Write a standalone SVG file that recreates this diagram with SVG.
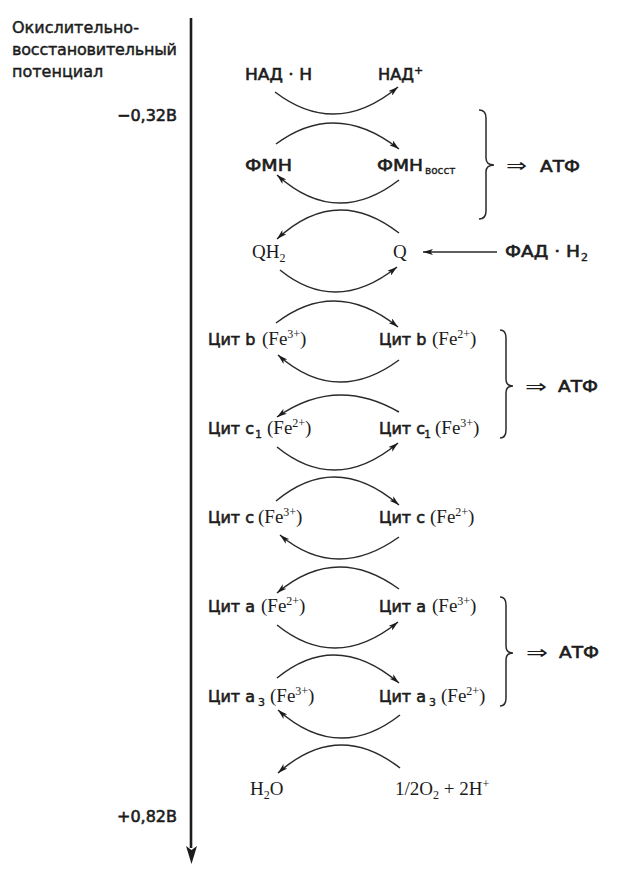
<svg xmlns="http://www.w3.org/2000/svg" width="619" height="874" viewBox="0 0 619 874">
<style>
text{fill:#1c1c1c}
.s{font-family:"DejaVu Sans","Liberation Sans",sans-serif;font-size:16px;stroke:#1c1c1c;stroke-width:0.6}
.t{font-family:"DejaVu Sans","Liberation Sans",sans-serif;font-size:16px;stroke:#1c1c1c;stroke-width:0.45}
.r{font-family:"Liberation Serif","Times New Roman",serif;font-size:19px;stroke:none}
.sub{font-size:12px}
.sup{font-size:12px}
.ssub{font-size:11px;stroke-width:0.4}
.vs{font-size:10.5px;stroke-width:0.35}
.arr{font-family:"DejaVu Sans",sans-serif;font-size:19px;stroke:none}
.arc{fill:none;stroke:#2a2a2a;stroke-width:1.5;marker-end:url(#ah)}
.br{fill:none;stroke:#2a2a2a;stroke-width:1.5}
</style>
<defs>
<marker id="ah" viewBox="0 0 10 6" refX="10" refY="3" markerWidth="10" markerHeight="6" orient="auto" markerUnits="userSpaceOnUse">
<path d="M0,0 L10,3 L0,6 L2.5,3z" fill="#1c1c1c"/>
</marker>
</defs>

<g id="axis">
<line x1="191" y1="18" x2="191" y2="848" stroke="#1c1c1c" stroke-width="2.6"/>
<path d="M186,846 L191.5,864 L197,846 L191.5,850z" fill="#1c1c1c"/>
<text class="t" x="12" y="33">Окислительно-</text>
<text class="t" x="12" y="55" textLength="165">восстановительный</text>
<text class="t" x="12" y="77">потенциал</text>
<text class="s" x="177" y="121" text-anchor="end">−0,32В</text>
<text class="s" x="177" y="822" text-anchor="end">+0,82В</text>
</g>

<g id="connectors">
<path class="arc" d="M275,92 Q336,138.5 398,87"/>
<path class="arc" d="M276,144 Q336,99.5 399,149"/>
<path class="arc" d="M399,180 Q336,228.5 277,175"/>
<path class="arc" d="M399,233 Q336,184 277,239"/>
<path class="arc" d="M280,270 Q336,315.5 397,267"/>
<path class="arc" d="M276,323 Q336,277 398,327"/>
<path class="arc" d="M399,360 Q336,406.5 278,355"/>
<path class="arc" d="M399,412 Q336,375.5 277,417"/>
<path class="arc" d="M277,447 Q336,495 398,443"/>
<path class="arc" d="M276,501 Q336,451 399,505"/>
<path class="arc" d="M399,537 Q336,582 280,535"/>
<path class="arc" d="M399,589 Q336,543 277,593"/>
<path class="arc" d="M277,625 Q336,672.5 398,622"/>
<path class="arc" d="M277,678 Q336,629.5 399,683"/>
<path class="arc" d="M400,715 Q338,763.5 278,710"/>
<path class="arc" d="M400,768 Q338,719.5 278,773"/>
<line x1="497" y1="252" x2="423" y2="252" stroke="#2a2a2a" stroke-width="1.5" marker-end="url(#ah)"/>
</g>

<g id="nadh"><text class="s" x="245" y="80" textLength="67" lengthAdjust="spacingAndGlyphs">НАД · Н</text></g>
<g id="nad"><text class="s" x="378" y="80"><tspan textLength="36" lengthAdjust="spacingAndGlyphs">НАД</tspan><tspan class="ssub" dy="-6">+</tspan></text></g>
<g id="fmn"><text class="s" x="245" y="171" textLength="47" lengthAdjust="spacingAndGlyphs">ФМН</text></g>
<g id="fmnh"><text class="s" x="377" y="171"><tspan textLength="46" lengthAdjust="spacingAndGlyphs">ФМН</tspan><tspan class="vs" x="425" dy="3">восст</tspan></text></g>
<g id="qh2"><text class="r" x="252" y="258">QH<tspan class="sub" dy="4">2</tspan></text></g>
<g id="q"><text class="r" x="393" y="258">Q</text></g>
<g id="fadh2"><text class="s" x="505" y="257"><tspan textLength="75" lengthAdjust="spacingAndGlyphs">ФАД · Н</tspan><tspan class="ssub" x="581" dy="4">2</tspan></text></g>

<g id="cytb-ox"><text y="345"><tspan class="s" x="208">Цит b</tspan><tspan class="r" x="262">(Fe</tspan><tspan class="r sup" dy="-7">3+</tspan><tspan class="r" dy="7">)</tspan></text></g>
<g id="cytb-red"><text y="345"><tspan class="s" x="379">Цит b</tspan><tspan class="r" x="432">(Fe</tspan><tspan class="r sup" dy="-7">2+</tspan><tspan class="r" dy="7">)</tspan></text></g>
<g id="cytc1-red"><text y="434"><tspan class="s" x="208">Цит c</tspan><tspan class="s ssub" x="255" dy="4">1</tspan><tspan class="r" x="267" dy="-4">(Fe</tspan><tspan class="r sup" dy="-7">2+</tspan><tspan class="r" dy="7">)</tspan></text></g>
<g id="cytc1-ox"><text y="434"><tspan class="s" x="379">Цит c</tspan><tspan class="s ssub" x="424" dy="4">1</tspan><tspan class="r" x="435" dy="-4">(Fe</tspan><tspan class="r sup" dy="-7">3+</tspan><tspan class="r" dy="7">)</tspan></text></g>
<g id="cytc-ox"><text y="523"><tspan class="s" x="208">Цит c</tspan><tspan class="r" x="258">(Fe</tspan><tspan class="r sup" dy="-7">3+</tspan><tspan class="r" dy="7">)</tspan></text></g>
<g id="cytc-red"><text y="523"><tspan class="s" x="379">Цит c</tspan><tspan class="r" x="430">(Fe</tspan><tspan class="r sup" dy="-7">2+</tspan><tspan class="r" dy="7">)</tspan></text></g>
<g id="cyta-red"><text y="612"><tspan class="s" x="208">Цит a</tspan><tspan class="r" x="261">(Fe</tspan><tspan class="r sup" dy="-7">2+</tspan><tspan class="r" dy="7">)</tspan></text></g>
<g id="cyta-ox"><text y="612"><tspan class="s" x="379">Цит a</tspan><tspan class="r" x="432">(Fe</tspan><tspan class="r sup" dy="-7">3+</tspan><tspan class="r" dy="7">)</tspan></text></g>
<g id="cyta3-ox"><text y="702"><tspan class="s" x="208">Цит a</tspan><tspan class="s ssub" x="258" dy="4">3</tspan><tspan class="r" x="270" dy="-4">(Fe</tspan><tspan class="r sup" dy="-7">3+</tspan><tspan class="r" dy="7">)</tspan></text></g>
<g id="cyta3-red"><text y="702"><tspan class="s" x="379">Цит a</tspan><tspan class="s ssub" x="429" dy="4">3</tspan><tspan class="r" x="441" dy="-4">(Fe</tspan><tspan class="r sup" dy="-7">2+</tspan><tspan class="r" dy="7">)</tspan></text></g>
<g id="h2o"><text class="r" x="250" y="795">H<tspan class="sub" dy="4">2</tspan><tspan dy="-4">O</tspan></text></g>
<g id="o2"><text class="r" x="395" y="795">1/2O<tspan class="sub" dy="4">2</tspan><tspan dy="-4"> + 2H</tspan><tspan class="sup" dy="-7">+</tspan></text></g>

<g id="atp1">
<path class="br" d="M479,110 Q486,110 486,118 L486,158 Q486,165 494,165 Q486,165 486,172 L486,211 Q486,219 479,219"/>
<text class="arr" x="506" y="172" textLength="21" lengthAdjust="spacingAndGlyphs">⇒</text>
<text class="s" x="540" y="172" textLength="40" lengthAdjust="spacingAndGlyphs">АТФ</text>
</g>
<g id="atp2">
<path class="br" d="M500,330 Q506,330 506,338 L506,379 Q506,386 513,386 Q506,386 506,393 L506,430 Q506,438 500,438"/>
<text class="arr" x="525" y="393" textLength="22" lengthAdjust="spacingAndGlyphs">⇒</text>
<text class="s" x="558" y="392" textLength="40" lengthAdjust="spacingAndGlyphs">АТФ</text>
</g>
<g id="atp3">
<path class="br" d="M500,597 Q506,597 506,605 L506,646 Q506,653 513,653 Q506,653 506,660 L506,698 Q506,706 500,706"/>
<text class="arr" x="526" y="659" textLength="22" lengthAdjust="spacingAndGlyphs">⇒</text>
<text class="s" x="559" y="658" textLength="40" lengthAdjust="spacingAndGlyphs">АТФ</text>
</g>
</svg>
